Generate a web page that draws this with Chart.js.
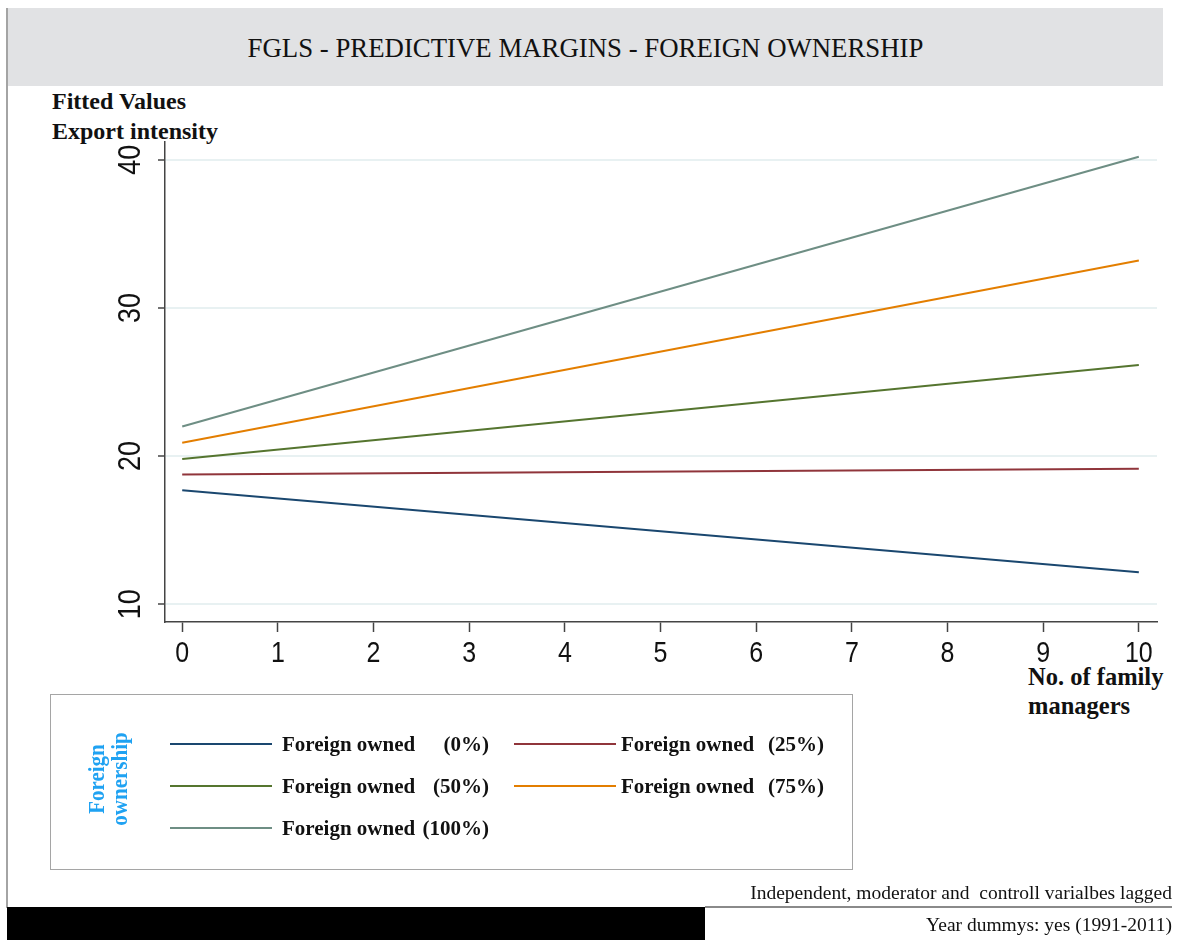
<!DOCTYPE html>
<html>
<head>
<meta charset="utf-8">
<title>FGLS - Predictive margins - Foreign ownership</title>
<script src="https://cdn.jsdelivr.net/npm/chart.js@4.4.1/dist/chart.umd.min.js"></script>
<style>
  html, body { margin: 0; padding: 0; background: #fff; }
  #page { position: relative; width: 1178px; height: 940px; overflow: hidden; background: #fff;
          font-family: "Liberation Serif", "Times New Roman", serif; color: #111; }
  .abs { position: absolute; }
  #frameLine { left: 6px; top: 8px; width: 2px; height: 900px; background: #a4a4a4; }
  #band { left: 8px; top: 8px; width: 1155px; height: 78px; background: #e1e2e4; }
  #title { left: 8px; top: 8px; width: 1155px; height: 78px; line-height: 80px; text-align: center; font-size: 26.8px; }
  #ytitle { left: 52px; top: 86px; font-weight: bold; font-size: 24px; line-height: 30px; white-space: nowrap; }
  #xtitle { left: 1028px; top: 662px; font-weight: bold; font-size: 24.5px; line-height: 29px; white-space: nowrap; }
  #chartCanvas { position: absolute; left: 0; top: 0; }
  #legendBox { left: 50px; top: 694px; width: 801px; height: 174px; border: 1px solid #a5a5a5; }
  #legendTitle { color: #1fa2f2; font-weight: bold; font-size: 21px; line-height: 21px; text-align: center;
                 white-space: nowrap; transform: translate(-50%, -50%) rotate(-90deg) scaleY(1.1); }
  .swatch { height: 2px; width: 102px; }
  .entry { font-weight: bold; font-size: 21px; line-height: 24px; white-space: nowrap; display: flex; justify-content: space-between; }
  .note { right: 6px; font-size: 19.5px; line-height: 20px; white-space: nowrap; }
  #noteRule { left: 705px; top: 906px; width: 467px; height: 1.5px; background: #8a8a8a; }
  #blackBar { left: 7px; top: 907px; width: 698px; height: 33px; background: #000; }
</style>
</head>
<body>
<div id="page">
  <div id="frameLine" class="abs"></div>
  <div id="band" class="abs"></div>
  <div id="title" class="abs">FGLS - PREDICTIVE MARGINS - FOREIGN OWNERSHIP</div>
  <div id="ytitle" class="abs">Fitted Values<br>Export intensity</div>
  <div id="xtitle" class="abs">No. of family<br>managers</div>
  <canvas id="chartCanvas" width="1178" height="940"></canvas>
  <div id="legendBox" class="abs"></div>
  <div id="legendTitle" class="abs" style="left:108px; top:779px;">Foreign<br>ownership</div>
  <div id="legendItems"></div>
  <div class="abs note" style="top:883px;">Independent, moderator and&nbsp; controll varialbes lagged</div>
  <div id="noteRule" class="abs"></div>
  <div id="blackBar" class="abs"></div>
  <div class="abs note" style="top:915px;">Year dummys: yes (1991-2011)</div>
</div>
<script>
// Number of family managers (x) at the two ends of each fitted line
const managers = [0, 10];

// Fitted export intensity for each level of foreign ownership
const fittedOwned0   = [17.7, 12.15];
const fittedOwned25  = [18.75, 19.15];
const fittedOwned50  = [19.8, 26.15];
const fittedOwned75  = [20.9, 33.2];
const fittedOwned100 = [22.0, 40.2];

// Series naming
const seriesName   = 'Foreign owned';
const shareLabels  = ['(0%)', '(25%)', '(50%)', '(75%)', '(100%)'];

// Axis tick labels
const xTicks = [0, 1, 2, 3, 4, 5, 6, 7, 8, 9, 10];
const yTicks = [10, 20, 30, 40];

const seriesValues = [fittedOwned0, fittedOwned25, fittedOwned50, fittedOwned75, fittedOwned100];
const seriesColors = ['#1a476f', '#90353b', '#55752f', '#e37e00', '#6e8e84'];

// Tall-glyph tick labels, placed with the chart's own scales
const axisLabels = {
  id: 'axisLabels',
  afterDraw(chart) {
    const ctx = chart.ctx;
    const ys = chart.scales.y;
    const xs = chart.scales.x;
    ctx.save();
    ctx.fillStyle = '#111';
    ctx.textAlign = 'center';
    ctx.textBaseline = 'middle';

    // y labels: rotated, reading bottom to top
    ctx.font = '27px "Liberation Sans", Arial, sans-serif';
    ys.ticks.forEach(t => {
      const y = ys.getPixelForValue(t.value);
      ctx.save();
      ctx.translate(ys.right - 35, y);
      ctx.rotate(-Math.PI / 2);
      ctx.scale(1, 1.14);
      ctx.fillText(String(t.value), 0, 1);
      ctx.restore();
    });

    // x labels: upright, slightly stretched vertically
    ctx.font = '25px "Liberation Sans", Arial, sans-serif';
    xs.ticks.forEach(t => {
      const x = xs.getPixelForValue(t.value);
      ctx.save();
      ctx.translate(x, xs.top + 32);
      ctx.scale(1, 1.15);
      ctx.fillText(String(t.value), 0, 0);
      ctx.restore();
    });
    ctx.restore();
  }
};

new Chart(document.getElementById('chartCanvas'), {
  type: 'line',
  data: {
    datasets: seriesValues.map((vals, i) => ({
      label: seriesName + ' ' + shareLabels[i],
      data: managers.map((m, j) => ({ x: m, y: vals[j] })),
      borderColor: seriesColors[i],
      borderWidth: 2,
      pointRadius: 0,
      fill: false,
      tension: 0
    }))
  },
  options: {
    responsive: false,
    animation: false,
    layout: { padding: { left: 100, right: 21, top: 142, bottom: 268 } },
    plugins: { legend: { display: false }, tooltip: { enabled: false } },
    scales: {
      x: {
        type: 'linear',
        min: -0.18,
        max: 10.19,
        afterBuildTicks: s => { s.ticks = xTicks.map(v => ({ value: v })); },
        afterFit: s => { s.height = 50; },
        grid: { drawOnChartArea: false, drawTicks: true, tickLength: 10, tickColor: '#444', tickWidth: 1.5 },
        border: { display: true, color: '#444', width: 1.5 },
        ticks: { display: false }
      },
      y: {
        type: 'linear',
        min: 8.8,
        max: 41.2,
        afterBuildTicks: s => { s.ticks = yTicks.map(v => ({ value: v })); },
        afterFit: s => { s.width = 65; },
        grid: { color: '#e8f1f2', lineWidth: 2, drawTicks: true, tickLength: 7, tickColor: '#444', tickWidth: 1.5 },
        border: { display: true, color: '#444', width: 1.5 },
        ticks: { display: false }
      }
    }
  },
  plugins: [axisLabels]
});

// Legend built from the same series arrays
const legendCols = [{ line: 170, text: 282, width: 207 }, { line: 514, text: 621, width: 203 }];
const legendRows = [744, 786, 828];
const legendHost = document.getElementById('legendItems');
seriesValues.forEach((_, i) => {
  const col = legendCols[i % 2];
  const rowY = legendRows[Math.floor(i / 2)];
  const sw = document.createElement('div');
  sw.className = 'abs swatch';
  sw.style.left = col.line + 'px';
  sw.style.top = (rowY - 1) + 'px';
  sw.style.background = seriesColors[i];
  legendHost.appendChild(sw);
  const tx = document.createElement('div');
  tx.className = 'abs entry';
  tx.style.left = col.text + 'px';
  tx.style.top = (rowY - 12) + 'px';
  tx.style.width = col.width + 'px';
  const a = document.createElement('span'); a.textContent = seriesName;
  const b = document.createElement('span'); b.textContent = shareLabels[i];
  tx.appendChild(a); tx.appendChild(b);
  legendHost.appendChild(tx);
});
</script>
</body>
</html>
